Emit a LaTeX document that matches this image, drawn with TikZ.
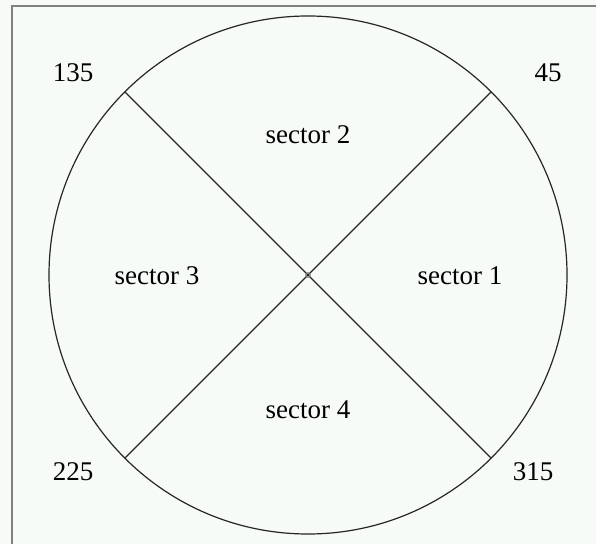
\documentclass[tikz,border=0pt]{standalone}
\usepackage{fontspec}
\setmainfont{Liberation Serif}
\usetikzlibrary{calc}
\definecolor{bgc}{HTML}{F6FBF8}
\definecolor{framec}{HTML}{808080}
\begin{document}
\begin{tikzpicture}[x=1pt,y=1pt,
  lbl/.style={font=\fontsize{27}{32}\selectfont, inner sep=0pt},
  edge/.style={draw=black!85, line width=1.2pt}]
\fill[bgc] (0,0) rectangle (596,544);
\useasboundingbox (0,0) rectangle (596,544);
\draw[framec, line width=2pt] (12,0) -- (12,538) -- (596,538);
\coordinate (O) at (308,269);
\def\R{259}
\coordinate (p45) at ($(O)+(45:\R)$);
\coordinate (p135) at ($(O)+(135:\R)$);
\coordinate (p225) at ($(O)+(225:\R)$);
\coordinate (p315) at ($(O)+(315:\R)$);
\draw[edge] (O) circle (\R);
\draw[edge] (p45) -- (p225);
\draw[edge] (p135) -- (p315);
\node[draw=black!50, circle, inner sep=0pt, minimum size=5pt, line width=0.6pt] (c) at (O) {};
\node[lbl] (l135) at (73,471) {135};
\node[lbl] (l45) at (548,471) {45};
\node[lbl] (l225) at (73,72) {225};
\node[lbl] (l315) at (533,72) {315};
\node[lbl] (s2) at (308,409) {sector 2};
\node[lbl] (s3) at (157,268) {sector 3};
\node[lbl] (s1) at (460,268) {sector 1};
\node[lbl] (s4) at (308,134) {sector 4};
\end{tikzpicture}
\end{document}
